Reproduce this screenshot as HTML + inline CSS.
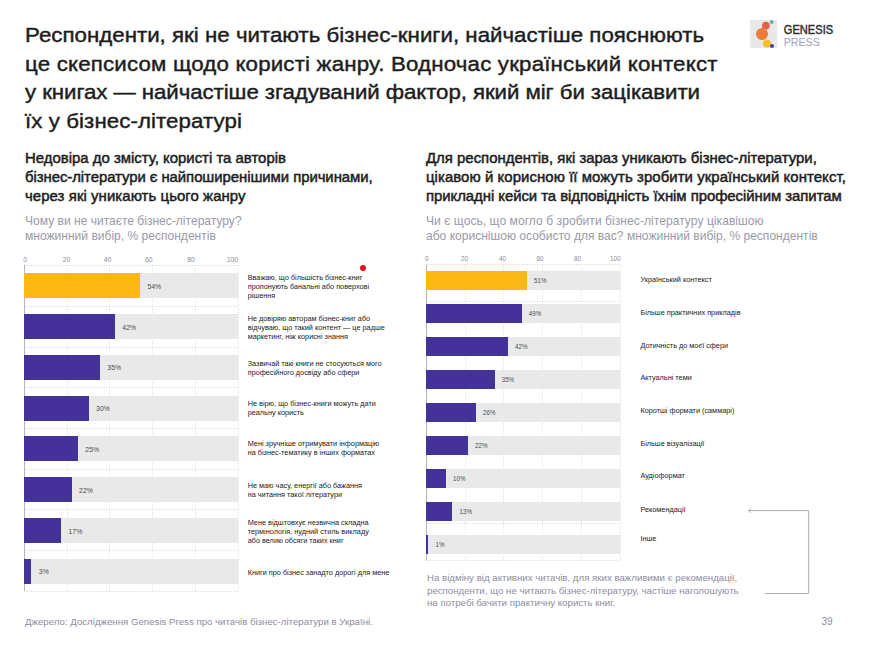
<!DOCTYPE html>
<html><head><meta charset="utf-8">
<style>
*{margin:0;padding:0;box-sizing:border-box}
html,body{width:873px;height:646px;background:#fff;overflow:hidden}
body{position:relative;font-family:"Liberation Sans",sans-serif;color:#1a1a1a}
.a{position:absolute;white-space:nowrap}
#title{left:25px;top:21.8px;font-size:22.3px;line-height:30.85px;font-weight:normal;color:#1d1d1d;-webkit-text-stroke:0.45px #1d1d1d;transform:scaleY(0.92);transform-origin:0 0}
.h2{font-size:14.93px;line-height:20.4px;font-weight:normal;color:#1d1d1d;-webkit-text-stroke:0.5px #1d1d1d;transform:scaleY(0.93);transform-origin:0 0}
.sub{font-size:12.05px;line-height:15px;color:#9b99aa}
.tick{position:absolute;font-size:6.8px;color:#8b8b97;line-height:8px;white-space:nowrap}
.gl{position:absolute;width:0;border-left:1px dotted #d4d4d4}
.hl{position:absolute;height:0;border-top:1px dotted #cfcfcf}
.ax{position:absolute;width:1px;background:#c9c8d0}
.bg{position:absolute;background:#e9e9e9}
.bar{position:absolute;background:#44329a}
.bar.y{background:#fdb813}
.pct{position:absolute;font-size:6.9px;color:#4a4a4a;line-height:8px;white-space:nowrap;transform:scaleY(1.16);transform-origin:0 6.4px}
.lab{position:absolute;font-size:7px;line-height:9.1px;color:#222;white-space:nowrap;display:flex;align-items:center}
.note{font-size:9.68px;line-height:12.6px;color:#8e8ca0}
.foot{font-size:9.67px;color:#8e8ca0}
</style></head><body>
<div id="title" class="a">Респонденти, які не читають бізнес-книги, найчастіше пояснюють<br><span style="letter-spacing:0.174px">це скепсисом щодо користі жанру. Водночас український контекст</span><br><span style="letter-spacing:-0.086px">у книгах — найчастіше згадуваний фактор, який міг би зацікавити</span><br><span style="letter-spacing:0.07px">їх у бізнес-літературі</span></div>
<div class="a h2" style="left:25px;top:149.3px">Недовіра до змісту, користі та авторів<br><span style="letter-spacing:-0.066px">бізнес-літератури є найпоширенішими причинами,</span><br><span style="letter-spacing:0.069px">через які уникають цього жанру</span></div>
<div class="a sub" style="left:25px;top:213.8px">Чому ви не читаєте бізнес-літературу?<br>множинний вибір, % респондентів</div>
<div class="a h2" style="left:426px;top:149.3px">Для респондентів, які зараз уникають бізнес-літератури,<br><span style="letter-spacing:0.068px">цікавою й корисною її можуть зробити український контекст,</span><br><span style="letter-spacing:-0.056px">прикладні кейси та відповідність їхнім професійним запитам</span></div>
<div class="a sub" style="left:426px;top:213.8px"><span style="letter-spacing:0.05px">Чи є щось, що могло б зробити бізнес-літературу цікавішою</span><br>або кориснішою особисто для вас? множинний вибір, % респондентів</div>
<svg style="position:absolute;left:0;top:0" width="873" height="646"><line x1="67.50" y1="265.00" x2="67.50" y2="591.00" stroke="#dcdce2" stroke-width="1" stroke-dasharray="1 1.6"/><line x1="109.50" y1="265.00" x2="109.50" y2="591.00" stroke="#dcdce2" stroke-width="1" stroke-dasharray="1 1.6"/><line x1="152.50" y1="265.00" x2="152.50" y2="591.00" stroke="#dcdce2" stroke-width="1" stroke-dasharray="1 1.6"/><line x1="195.50" y1="265.00" x2="195.50" y2="591.00" stroke="#dcdce2" stroke-width="1" stroke-dasharray="1 1.6"/><line x1="238.50" y1="265.00" x2="238.50" y2="591.00" stroke="#dcdce2" stroke-width="1" stroke-dasharray="1 1.6"/><line x1="25.80" y1="265.50" x2="238.40" y2="265.50" stroke="#d3d3d9" stroke-width="1" stroke-dasharray="1 1.6"/><line x1="25.80" y1="306.50" x2="238.40" y2="306.50" stroke="#d3d3d9" stroke-width="1" stroke-dasharray="1 1.6"/><line x1="25.80" y1="347.50" x2="238.40" y2="347.50" stroke="#d3d3d9" stroke-width="1" stroke-dasharray="1 1.6"/><line x1="25.80" y1="387.50" x2="238.40" y2="387.50" stroke="#d3d3d9" stroke-width="1" stroke-dasharray="1 1.6"/><line x1="25.80" y1="428.50" x2="238.40" y2="428.50" stroke="#d3d3d9" stroke-width="1" stroke-dasharray="1 1.6"/><line x1="25.80" y1="469.50" x2="238.40" y2="469.50" stroke="#d3d3d9" stroke-width="1" stroke-dasharray="1 1.6"/><line x1="25.80" y1="509.50" x2="238.40" y2="509.50" stroke="#d3d3d9" stroke-width="1" stroke-dasharray="1 1.6"/><line x1="25.80" y1="550.50" x2="238.40" y2="550.50" stroke="#d3d3d9" stroke-width="1" stroke-dasharray="1 1.6"/><line x1="25.80" y1="591.50" x2="238.40" y2="591.50" stroke="#d3d3d9" stroke-width="1" stroke-dasharray="1 1.6"/><line x1="24.50" y1="265.00" x2="24.50" y2="591.00" stroke="#b4b3c2" stroke-width="1"/></svg>
<div class="tick" style="left:23.20px;top:256.00px;font-size:6.8px">0</div>
<div class="tick" style="left:62.70px;top:256.00px;font-size:6.8px">20</div>
<div class="tick" style="left:103.80px;top:256.00px;font-size:6.8px">40</div>
<div class="tick" style="left:145.10px;top:256.00px;font-size:6.8px">60</div>
<div class="tick" style="left:187.30px;top:256.00px;font-size:6.8px">80</div>
<div class="tick" style="left:226.80px;top:256.00px;font-size:6.8px">100</div>
<div class="bg" style="left:24.30px;top:273.10px;width:214.10px;height:25.20px"></div>
<div class="bar y" style="left:24.30px;top:273.10px;width:115.80px;height:25.20px"></div>
<div class="pct" style="left:147.40px;top:282.70px;font-size:6.9px">54%</div>
<div class="lab" style="left:247.70px;top:264.00px;height:45.20px;font-size:7.3px;line-height:9.0px"><div>Вважаю, що більшість бізнес-книг<br>пропонують банальні або поверхові<br>рішення</div></div>
<div class="bg" style="left:24.30px;top:313.90px;width:214.10px;height:25.20px"></div>
<div class="bar" style="left:24.30px;top:313.90px;width:90.70px;height:25.20px"></div>
<div class="pct" style="left:122.30px;top:323.50px;font-size:6.9px">42%</div>
<div class="lab" style="left:247.70px;top:304.70px;height:45.20px;font-size:7.3px;line-height:9.0px"><div>Не довіряю авторам бізнес-книг або<br>відчуваю, що такий контент — це радше<br>маркетинг, ніж корисні знання</div></div>
<div class="bg" style="left:24.30px;top:354.70px;width:214.10px;height:25.20px"></div>
<div class="bar" style="left:24.30px;top:354.70px;width:75.70px;height:25.20px"></div>
<div class="pct" style="left:107.30px;top:364.30px;font-size:6.9px">35%</div>
<div class="lab" style="left:247.70px;top:345.00px;height:45.20px;font-size:7.3px;line-height:9.0px"><div>Зазвичай такі книги не стосуються мого<br>професійного досвіду або сфери</div></div>
<div class="bg" style="left:24.30px;top:395.50px;width:214.10px;height:25.20px"></div>
<div class="bar" style="left:24.30px;top:395.50px;width:64.50px;height:25.20px"></div>
<div class="pct" style="left:96.10px;top:405.10px;font-size:6.9px">30%</div>
<div class="lab" style="left:247.70px;top:385.00px;height:45.20px;font-size:7.3px;line-height:9.0px"><div>Не вірю, що бізнес-книги можуть дати<br>реальну користь</div></div>
<div class="bg" style="left:24.30px;top:436.30px;width:214.10px;height:25.20px"></div>
<div class="bar" style="left:24.30px;top:436.30px;width:53.70px;height:25.20px"></div>
<div class="pct" style="left:85.30px;top:445.90px;font-size:6.9px">25%</div>
<div class="lab" style="left:247.70px;top:425.80px;height:45.20px;font-size:7.3px;line-height:9.0px"><div>Мені зручніше отримувати інформацію<br>на бізнес-тематику в інших форматах</div></div>
<div class="bg" style="left:24.30px;top:477.10px;width:214.10px;height:25.20px"></div>
<div class="bar" style="left:24.30px;top:477.10px;width:47.50px;height:25.20px"></div>
<div class="pct" style="left:79.10px;top:486.70px;font-size:6.9px">22%</div>
<div class="lab" style="left:247.70px;top:467.40px;height:45.20px;font-size:7.3px;line-height:9.0px"><div>Не маю часу, енергії або бажання<br>на читання такої літератури</div></div>
<div class="bg" style="left:24.30px;top:517.90px;width:214.10px;height:25.20px"></div>
<div class="bar" style="left:24.30px;top:517.90px;width:36.90px;height:25.20px"></div>
<div class="pct" style="left:68.50px;top:527.50px;font-size:6.9px">17%</div>
<div class="lab" style="left:247.70px;top:509.00px;height:45.20px;font-size:7.3px;line-height:9.0px"><div>Мене відштовхує незвична складна<br>термінологія, нудний стиль викладу<br>або великі обсяги таких книг</div></div>
<div class="bg" style="left:24.30px;top:558.70px;width:214.10px;height:25.20px"></div>
<div class="bar" style="left:24.30px;top:558.70px;width:7.20px;height:25.20px"></div>
<div class="pct" style="left:38.80px;top:568.30px;font-size:6.9px">3%</div>
<div class="lab" style="left:247.70px;top:549.80px;height:45.20px;font-size:7.3px;line-height:9.0px"><div>Книги про бізнес занадто дорогі для мене</div></div>
<svg style="position:absolute;left:0;top:0" width="873" height="646"><line x1="465.50" y1="264.50" x2="465.50" y2="560.50" stroke="#dcdce2" stroke-width="1" stroke-dasharray="1 1.6"/><line x1="503.50" y1="264.50" x2="503.50" y2="560.50" stroke="#dcdce2" stroke-width="1" stroke-dasharray="1 1.6"/><line x1="542.50" y1="264.50" x2="542.50" y2="560.50" stroke="#dcdce2" stroke-width="1" stroke-dasharray="1 1.6"/><line x1="581.50" y1="264.50" x2="581.50" y2="560.50" stroke="#dcdce2" stroke-width="1" stroke-dasharray="1 1.6"/><line x1="620.50" y1="264.50" x2="620.50" y2="560.50" stroke="#dcdce2" stroke-width="1" stroke-dasharray="1 1.6"/><line x1="427.80" y1="264.50" x2="620.40" y2="264.50" stroke="#d3d3d9" stroke-width="1" stroke-dasharray="1 1.6"/><line x1="427.80" y1="301.50" x2="620.40" y2="301.50" stroke="#d3d3d9" stroke-width="1" stroke-dasharray="1 1.6"/><line x1="427.80" y1="523.50" x2="620.40" y2="523.50" stroke="#d3d3d9" stroke-width="1" stroke-dasharray="1 1.6"/><line x1="427.80" y1="560.50" x2="620.40" y2="560.50" stroke="#d3d3d9" stroke-width="1" stroke-dasharray="1 1.6"/><line x1="426.50" y1="264.50" x2="426.50" y2="560.50" stroke="#b4b3c2" stroke-width="1"/></svg>
<div class="tick" style="left:425.00px;top:254.50px;font-size:6.35px">0</div>
<div class="tick" style="left:461.00px;top:254.50px;font-size:6.35px">20</div>
<div class="tick" style="left:499.00px;top:254.50px;font-size:6.35px">40</div>
<div class="tick" style="left:536.60px;top:254.50px;font-size:6.35px">60</div>
<div class="tick" style="left:573.90px;top:254.50px;font-size:6.35px">80</div>
<div class="tick" style="left:610.00px;top:254.50px;font-size:6.35px">100</div>
<div class="bg" style="left:426.30px;top:271.30px;width:194.10px;height:18.90px"></div>
<div class="bar y" style="left:426.30px;top:271.30px;width:100.70px;height:18.90px"></div>
<div class="pct" style="left:534.00px;top:277.25px;font-size:6.2px">51%</div>
<div class="lab" style="left:640.40px;top:259.90px;height:38.90px;font-size:7.3px;line-height:9px"><div>Український контекст</div></div>
<div class="bg" style="left:426.30px;top:304.30px;width:194.10px;height:18.90px"></div>
<div class="bar" style="left:426.30px;top:304.30px;width:95.50px;height:18.90px"></div>
<div class="pct" style="left:528.80px;top:310.25px;font-size:6.2px">49%</div>
<div class="lab" style="left:640.40px;top:293.50px;height:38.90px;font-size:7.3px;line-height:9px"><div>Більше практичних прикладів</div></div>
<div class="bg" style="left:426.30px;top:337.30px;width:194.10px;height:18.90px"></div>
<div class="bar" style="left:426.30px;top:337.30px;width:81.80px;height:18.90px"></div>
<div class="pct" style="left:515.10px;top:343.25px;font-size:6.2px">42%</div>
<div class="lab" style="left:640.40px;top:326.10px;height:38.90px;font-size:7.3px;line-height:9px"><div>Дотичність до моєї сфери</div></div>
<div class="bg" style="left:426.30px;top:370.30px;width:194.10px;height:18.90px"></div>
<div class="bar" style="left:426.30px;top:370.30px;width:68.40px;height:18.90px"></div>
<div class="pct" style="left:501.70px;top:376.25px;font-size:6.2px">35%</div>
<div class="lab" style="left:640.40px;top:358.50px;height:38.90px;font-size:7.3px;line-height:9px"><div>Актуальні теми</div></div>
<div class="bg" style="left:426.30px;top:403.30px;width:194.10px;height:18.90px"></div>
<div class="bar" style="left:426.30px;top:403.30px;width:49.80px;height:18.90px"></div>
<div class="pct" style="left:483.10px;top:409.25px;font-size:6.2px">26%</div>
<div class="lab" style="left:640.40px;top:391.20px;height:38.90px;font-size:7.3px;line-height:9px"><div>Коротші формати (саммарі)</div></div>
<div class="bg" style="left:426.30px;top:436.30px;width:194.10px;height:18.90px"></div>
<div class="bar" style="left:426.30px;top:436.30px;width:41.70px;height:18.90px"></div>
<div class="pct" style="left:475.00px;top:442.25px;font-size:6.2px">22%</div>
<div class="lab" style="left:640.40px;top:423.90px;height:38.90px;font-size:7.3px;line-height:9px"><div>Більше візуалізації</div></div>
<div class="bg" style="left:426.30px;top:469.30px;width:194.10px;height:18.90px"></div>
<div class="bar" style="left:426.30px;top:469.30px;width:19.70px;height:18.90px"></div>
<div class="pct" style="left:453.00px;top:475.25px;font-size:6.2px">10%</div>
<div class="lab" style="left:640.40px;top:456.30px;height:38.90px;font-size:7.3px;line-height:9px"><div>Аудіоформат</div></div>
<div class="bg" style="left:426.30px;top:502.30px;width:194.10px;height:18.90px"></div>
<div class="bar" style="left:426.30px;top:502.30px;width:26.20px;height:18.90px"></div>
<div class="pct" style="left:459.50px;top:508.25px;font-size:6.2px">13%</div>
<div class="lab" style="left:640.40px;top:490.50px;height:38.90px;font-size:7.3px;line-height:9px"><div>Рекомендації</div></div>
<div class="bg" style="left:426.30px;top:535.30px;width:194.10px;height:18.90px"></div>
<div class="bar" style="left:426.30px;top:535.30px;width:2.20px;height:18.90px"></div>
<div class="pct" style="left:435.50px;top:541.25px;font-size:6.2px">1%</div>
<div class="lab" style="left:640.40px;top:518.80px;height:38.90px;font-size:7.3px;line-height:9px"><div>Інше</div></div>
<div style="position:absolute;left:359.7px;top:264.7px;width:6px;height:6px;border-radius:50%;background:#e3141b"></div>
<svg style="position:absolute;left:0;top:0" width="873" height="646"><path d="M748.6 510.6 H808.7 V593.5 H765.2" fill="none" stroke="#aaa9b8" stroke-width="1"/><path d="M751 508.3 L748.6 510.6 L751 512.9" fill="none" stroke="#aaa9b8" stroke-width="0.9"/></svg>
<div class="a note" style="left:427px;top:572px">На відміну від активних читачів, для яких важливими є рекомендації,<br>респонденти, що не читають бізнес-літературу, частіше наголошують<br>на потребі бачити практичну користь книг.</div>
<div class="a foot" style="left:25px;top:615.7px">Джерело: Дослідження Genesis Press про читачів бізнес-літератури в Україні.</div>
<div class="a foot" style="left:821.5px;top:616px;font-size:10px">39</div>
<div style="position:absolute;left:750px;top:20px;width:27px;height:28px;background:#e8e8e8"></div>
<svg style="position:absolute;left:0;top:0" width="873" height="646">
<circle cx="771.7" cy="22" r="1.9" fill="#5fb39a"/>
<circle cx="765.8" cy="25.7" r="3.9" fill="#e0604a"/>
<circle cx="762" cy="34" r="6" fill="#ec7c3c"/>
<circle cx="767" cy="43.4" r="4" fill="#f5bd30"/>
<circle cx="772" cy="46" r="2" fill="#4a3aa0"/>
</svg>
<div class="a" style="left:783.8px;top:23.0px;font-size:11.1px;font-weight:normal;color:#2e2e2e;-webkit-text-stroke:0.4px #2e2e2e;line-height:12px;transform:scaleY(1.1);transform-origin:0 0">GENESIS</div>
<div class="a" style="left:783.8px;top:35.0px;font-size:10.6px;color:#a3a1b8;line-height:12px;transform:scaleY(1.1);transform-origin:0 0">PRESS</div>

</body></html>
